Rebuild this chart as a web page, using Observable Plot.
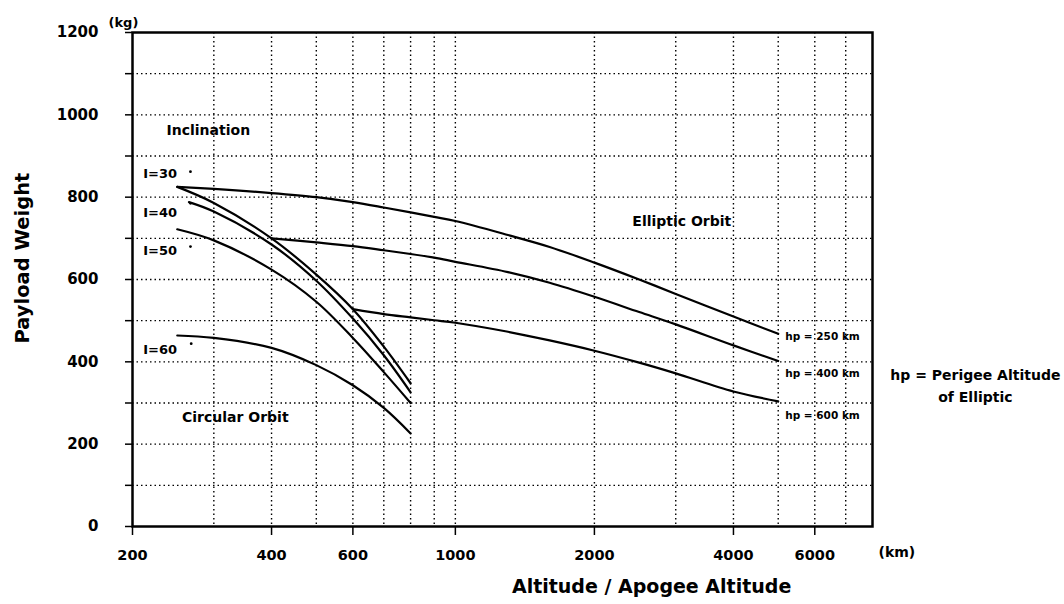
<!DOCTYPE html>
<html>
<head>
<meta charset="utf-8">
<script src="https://cdn.jsdelivr.net/npm/d3@7"></script>
<script src="https://cdn.jsdelivr.net/npm/@observablehq/plot@0.6"></script>
<style>
  html, body { margin: 0; padding: 0; background: #fff; }
</style>
</head>
<body>
<div id="chart"></div>
<script>
// ---- Data ----
const circAlt   = [250, 300, 400, 500, 600, 700, 800];
const i30W      = [825, 786, 700, 612, 528, 437, 348];
const i40Alt    = [265, 300, 400, 500, 600, 700, 800];
const i40W      = [788, 765, 685, 597, 505, 416, 326];
const i50W      = [722, 695, 624, 546, 458, 375, 300];
const i60W      = [464, 458, 434, 392, 343, 288, 226];

const hp250Alt  = [250, 300, 400, 500, 600, 700, 800, 900, 1000, 1300, 1600, 2000, 2500, 3000, 4000, 5000];
const hp250W    = [825, 820, 810, 800, 788, 775, 763, 752, 742, 708, 679, 641, 600, 565, 510, 468];
const hp400Alt  = [400, 500, 600, 700, 800, 900, 1000, 1300, 1600, 2000, 2500, 3000, 4000, 5000];
const hp400W    = [700, 690, 681, 671, 662, 653, 643, 618, 592, 558, 521, 491, 440, 402];
const hp600Alt  = [600, 700, 800, 900, 1000, 1300, 1600, 2000, 2500, 3000, 4000, 5000];
const hp600W    = [528, 516, 508, 501, 495, 473, 452, 427, 398, 372, 328, 304];

const xTickValues = [200, 400, 600, 1000, 2000, 4000, 6000];
const xGridValues = [300, 400, 500, 600, 700, 800, 900, 1000, 2000, 3000, 4000, 5000, 6000, 7000];
const yTickValues = d3.range(0, 1201, 100);
const yGridValues = d3.range(100, 1101, 100);

const series = [
  {name: "I=30", alt: circAlt, w: i30W},
  {name: "I=40", alt: i40Alt, w: i40W},
  {name: "I=50", alt: circAlt, w: i50W},
  {name: "I=60", alt: circAlt, w: i60W},
  {name: "hp=250", alt: hp250Alt, w: hp250W},
  {name: "hp=400", alt: hp400Alt, w: hp400W},
  {name: "hp=600", alt: hp600Alt, w: hp600W}
];
const rows = series.flatMap(s => s.alt.map((a, i) => ({series: s.name, alt: a, w: s.w[i]})));

const FONT = "DejaVu Sans";
const txt = (data, o) => Plot.text(data, {fontFamily: FONT, fontWeight: "bold", fill: "black", ...o});

const chart = Plot.plot({
  width: 1064,
  height: 604,
  marginLeft: 132,
  marginRight: 192,
  marginTop: 32,
  marginBottom: 78,
  style: {fontFamily: FONT, fontWeight: "bold", background: "white", color: "black"},
  x: {type: "log", domain: [200, 8000]},
  y: {domain: [0, 1200]},
  marks: [
    Plot.gridX(xGridValues, {stroke: "black", strokeOpacity: 1, strokeWidth: 1.4, strokeDasharray: "1.5,3"}),
    Plot.gridY(yGridValues, {stroke: "black", strokeOpacity: 1, strokeWidth: 1.4, strokeDasharray: "1.5,3"}),
    Plot.axisX({ticks: xTickValues, tickFormat: d => String(d), tickSize: 9, tickPadding: 14,
                fontSize: 14.5, label: null, strokeWidth: 1.5}),
    Plot.axisY({ticks: yTickValues, tickFormat: d => (d % 200 === 0 ? String(d) : ""), tickSize: 7,
                tickPadding: 27, fontSize: 15, label: null, strokeWidth: 1.5}),
    Plot.frame({stroke: "black", strokeWidth: 2.5}),
    Plot.line(rows, {x: "alt", y: "w", z: "series", curve: "catmull-rom", stroke: "black", strokeWidth: 2.2}),

    // annotations
    txt(["Inclination"], {x: 237, y: 962, textAnchor: "start", fontSize: 14}),
    txt(["I=30"], {x: 211, y: 857, textAnchor: "start", fontSize: 13}),
    txt(["I=40"], {x: 211, y: 763, textAnchor: "start", fontSize: 13}),
    txt(["I=50"], {x: 211, y: 670, textAnchor: "start", fontSize: 13}),
    txt(["I=60"], {x: 211, y: 430, textAnchor: "start", fontSize: 13}),
    Plot.dot([[267, 862], [267, 785], [267, 680], [268, 444]], {x: d => d[0], y: d => d[1], r: 1.4, fill: "black"}),
    txt(["Circular Orbit"], {x: 256, y: 264, textAnchor: "start", fontSize: 14}),
    txt(["Elliptic Orbit"], {x: 2416, y: 740, textAnchor: "start", fontSize: 14}),
    txt(["hp = 250 km"], {x: 5000, y: 461, dx: 7, textAnchor: "start", fontSize: 10.5}),
    txt(["hp = 400 km"], {x: 5000, y: 371, dx: 7, textAnchor: "start", fontSize: 10.5}),
    txt(["hp = 600 km"], {x: 5000, y: 270, dx: 7, textAnchor: "start", fontSize: 10.5}),
    txt(["hp = Perigee Altitude\nof Elliptic"], {x: 13360, y: 347, textAnchor: "middle", fontSize: 14, lineHeight: 1.57}),

    // axis titles and units
    txt(["(kg)"], {frameAnchor: "top-left", dx: -24, dy: -15, textAnchor: "start", fontSize: 13}),
    txt(["(km)"], {frameAnchor: "bottom-right", dx: 6, dy: 30, textAnchor: "start", fontSize: 14}),
    txt(["Payload Weight"], {frameAnchor: "left", y: 652, dx: -110, rotate: -90, textAnchor: "middle", fontSize: 19.5}),
    txt(["Altitude / Apogee Altitude"], {x: 2660, frameAnchor: "bottom", dy: 66, textAnchor: "middle", fontSize: 19})
  ]
});
document.getElementById("chart").appendChild(chart);
</script>
</body>
</html>
